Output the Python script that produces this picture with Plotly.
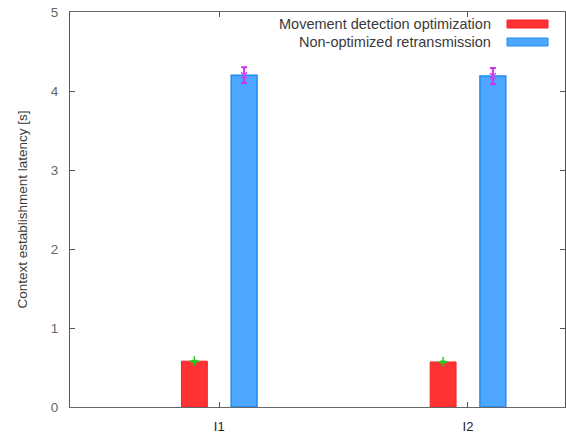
import plotly.graph_objects as go

categories = ["I1", "I2"]
cat_pos = [0, 1]
series_names = ["Movement detection optimization", "Non-optimized retransmission"]
movement_vals = [0.58, 0.57]
movement_err = [0.01, 0.01]
nonopt_vals = [4.20, 4.19]
nonopt_err = [0.10, 0.10]
y_ticks = [0, 1, 2, 3, 4, 5]

offset = 0.1
bw = 0.104
FONT = "Liberation Sans, Arial"

fig = go.Figure()
fig.add_trace(go.Bar(x=[p - offset for p in cat_pos], y=movement_vals, width=bw,
                     marker=dict(color="#ff3333", line=dict(color="#f02424", width=1)),
                     name=series_names[0], showlegend=False))
fig.add_trace(go.Bar(x=[p + offset for p in cat_pos], y=nonopt_vals, width=bw,
                     marker=dict(color="#4da6ff", line=dict(color="#1f8cf0", width=1.5)),
                     name=series_names[1], showlegend=False))
fig.add_trace(go.Scatter(x=[p - offset for p in cat_pos], y=movement_vals, mode="markers",
                         marker=dict(symbol="cross-thin", size=7, line=dict(color="#22cc22", width=1.5)),
                         error_y=dict(type="data", array=movement_err, color="#22cc22", thickness=1.5, width=3),
                         showlegend=False))
fig.add_trace(go.Scatter(x=[p + offset for p in cat_pos], y=nonopt_vals, mode="markers",
                         marker=dict(symbol="x-thin", size=6, line=dict(color="#cc44ee", width=1.5)),
                         error_y=dict(type="data", array=nonopt_err, color="#cc33ee", thickness=2, width=3),
                         showlegend=False))

# legend (gnuplot style: text right-aligned, swatch to the right)
legend_colors = [("#ff3333", "#f02424"), ("#4da6ff", "#1f8cf0")]
for i, (name, (fc, lc)) in enumerate(zip(series_names, legend_colors)):
    ypix = 24 + 18 * i
    yp = 1 - (ypix - 12) / 395
    fig.add_annotation(x=(493 - 70) / 495, y=yp, xref="paper", yref="paper", text=name,
                       showarrow=False, xanchor="right", yanchor="middle",
                       font=dict(family=FONT, size=14.5, color="#3a3a3a"))
    fig.add_shape(type="rect", xref="paper", yref="paper",
                  x0=(507 - 70) / 495, x1=(548 - 70) / 495,
                  y0=yp - 4 / 395, y1=yp + 4 / 395,
                  fillcolor=fc, line=dict(color=lc, width=1))

fig.update_layout(
    width=566, height=434,
    margin=dict(l=70, r=1, t=12, b=27),
    plot_bgcolor="white", paper_bgcolor="white",
    font=dict(family=FONT, size=13, color="#333333"),
    barmode="overlay",
    xaxis=dict(range=[-0.6, 1.39], tickvals=cat_pos, ticktext=categories,
               showgrid=False, zeroline=False, showline=True, linecolor="#666666", linewidth=1,
               mirror="ticks", ticks="inside", ticklen=5, tickcolor="#555555",
               ticklabelstandoff=7,
               tickfont=dict(family=FONT, size=13, color="#222222")),
    yaxis=dict(range=[0, 5], tickvals=y_ticks, showgrid=False, zeroline=False,
               showline=True, linecolor="#555555", linewidth=1, mirror="ticks",
               ticks="inside", ticklen=5, tickcolor="#555555",
               ticklabelstandoff=8,
               tickfont=dict(family=FONT, size=13.5, color="#666666"),
               title=dict(text="Context establishment latency [s]", standoff=20,
                          font=dict(family=FONT, size=13.5, color="#3a3a3a"))),
)

fig.write_html("out.html")
